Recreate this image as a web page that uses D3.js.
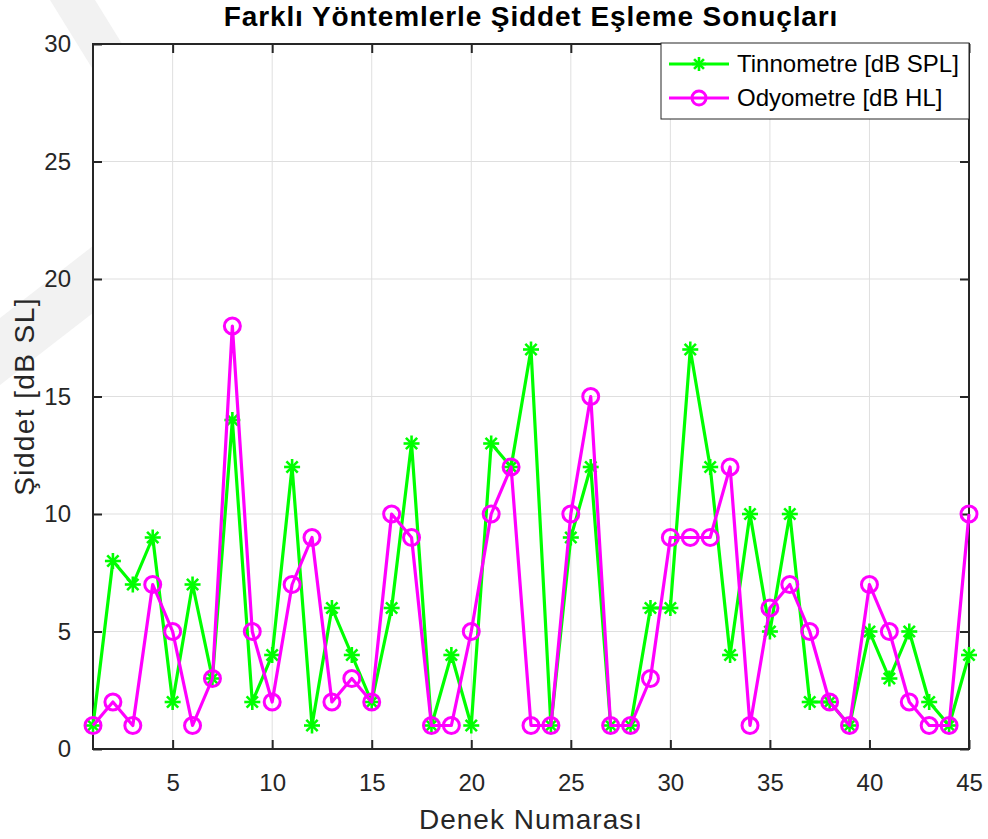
<!DOCTYPE html>
<html>
<head>
<meta charset="utf-8">
<style>
  body { margin: 0; background: #fff; }
  svg text { font-family: "Liberation Sans", Arial, Helvetica, sans-serif; fill: #262626; }
</style>
</head>
<body>
<svg width="988" height="839" id="chart"></svg>
<script src="https://cdn.jsdelivr.net/npm/d3@7"></script>
<script>

// subject numbers 1..45
var subjects = [1,2,3,4,5,6,7,8,9,10,11,12,13,14,15,16,17,18,19,20,21,22,23,24,25,26,27,28,29,30,31,32,33,34,35,36,37,38,39,40,41,42,43,44,45];

var tinnometre = [1,8,7,9,2,7,3,14,2,4,12,1,6,4,2,6,13,1,4,1,13,12,17,1,9,12,1,1,6,6,17,12,4,10,5,10,2,2,1,5,3,5,2,1,4];
var odyometre  = [1,2,1,7,5,1,3,18,5,2,7,9,2,3,2,10,9,1,1,5,10,12,1,1,10,15,1,1,3,9,9,9,12,1,6,7,5,2,1,7,5,2,1,1,10];

var xTicks = [5,10,15,20,25,30,35,40,45];
var yTicks = [0,5,10,15,20,25,30];

var seriesNames = ["Tinnometre [dB SPL]", "Odyometre [dB HL]"];
var titleText = "Farklı Yöntemlerle Şiddet Eşleme Sonuçları";
var xLabel = "Denek Numarası";
var yLabel = "Şiddet [dB SL]";

var svg = d3.select('#chart');

var pLeft = 93, pRight = 969, pTop = 44, pBottom = 749;
var axisColor = '#262626';

// faint watermark bands behind the figure
svg.append('polygon')
  .attr('points', '50,0 95,0 200,170 155,170')
  .style('fill', '#f2f2f2');
svg.append('polygon')
  .attr('points', '0,318 0,385 200,230 200,163')
  .style('fill', '#f2f2f2');

var x = d3.scaleLinear().domain([1, 45]).range([pLeft, pRight]);
var y = d3.scaleLinear().domain([0, 30]).range([pBottom, pTop]);

// plot background
svg.append('rect')
  .attr('x', pLeft).attr('y', pTop)
  .attr('width', pRight - pLeft).attr('height', pBottom - pTop)
  .style('fill', '#fff');

// grid
var grid = svg.append('g');
grid.selectAll('.gx').data(xTicks.filter(function(d){ return d < 45; }))
  .enter().append('line')
    .attr('x1', function(d){ return x(d); }).attr('x2', function(d){ return x(d); })
    .attr('y1', pTop).attr('y2', pBottom)
    .style('stroke', '#dfdfdf').style('stroke-width', 1);
grid.selectAll('.gy').data(yTicks.filter(function(d){ return d > 0 && d < 30; }))
  .enter().append('line')
    .attr('y1', function(d){ return y(d); }).attr('y2', function(d){ return y(d); })
    .attr('x1', pLeft).attr('x2', pRight)
    .style('stroke', '#dfdfdf').style('stroke-width', 1);

// axes (inward ticks, MATLAB style)
var xAxis = svg.append('g').attr('transform', 'translate(0,' + pBottom + ')')
  .call(d3.axisBottom(x).tickValues(xTicks).tickSizeInner(-9).tickSizeOuter(0).tickPadding(25));
var xAxisTop = svg.append('g').attr('transform', 'translate(0,' + pTop + ')')
  .call(d3.axisTop(x).tickValues(xTicks).tickSizeInner(-9).tickSizeOuter(0).tickFormat(''));
var yAxis = svg.append('g').attr('transform', 'translate(' + pLeft + ',0)')
  .call(d3.axisLeft(y).tickValues(yTicks).tickSizeInner(-9).tickSizeOuter(0).tickPadding(22));
var yAxisRight = svg.append('g').attr('transform', 'translate(' + pRight + ',0)')
  .call(d3.axisRight(y).tickValues(yTicks).tickSizeInner(-9).tickSizeOuter(0).tickFormat(''));

[xAxis, xAxisTop, yAxis, yAxisRight].forEach(function(a){
  a.select('.domain').remove();
  a.selectAll('.tick line').style('stroke', axisColor).style('stroke-width', 2);
  a.selectAll('.tick text').style('font-size', '24px').style('fill', axisColor)
    .style('font-family', '"Liberation Sans", Arial, sans-serif');
});

// frame
svg.append('rect')
  .attr('x', pLeft).attr('y', pTop)
  .attr('width', pRight - pLeft).attr('height', pBottom - pTop)
  .style('fill', 'none').style('stroke', axisColor).style('stroke-width', 2);

// series
var green = '#00ff00', magenta = '#ff00ff';

var line = d3.line()
  .x(function(d){ return x(d[0]); })
  .y(function(d){ return y(d[1]); });

var tinData = subjects.map(function(s, i){ return [s, tinnometre[i]]; });
var odyData = subjects.map(function(s, i){ return [s, odyometre[i]]; });

function asterisk(g, cx, cy, r, color) {
  var a = g.append('g').attr('transform', 'translate(' + cx + ',' + cy + ')');
  [0, 45, 90, 135].forEach(function(ang){
    var rad = ang * Math.PI / 180;
    a.append('line')
      .attr('x1', -r * Math.cos(rad)).attr('y1', -r * Math.sin(rad))
      .attr('x2', r * Math.cos(rad)).attr('y2', r * Math.sin(rad))
      .style('stroke', color).style('stroke-width', 2.6);
  });
}

svg.append('path').datum(tinData)
  .attr('d', line)
  .style('fill', 'none').style('stroke', green).style('stroke-width', 3.2)
  .style('stroke-linejoin', 'round');
var tinMarks = svg.append('g');
tinData.forEach(function(d){ asterisk(tinMarks, x(d[0]), y(d[1]), 8, green); });

svg.append('path').datum(odyData)
  .attr('d', line)
  .style('fill', 'none').style('stroke', magenta).style('stroke-width', 3.2)
  .style('stroke-linejoin', 'round');
svg.append('g').selectAll('circle').data(odyData)
  .enter().append('circle')
    .attr('cx', function(d){ return x(d[0]); })
    .attr('cy', function(d){ return y(d[1]); })
    .attr('r', 8)
    .style('fill', 'none').style('stroke', magenta).style('stroke-width', 3);

// legend
var leg = svg.append('g');
leg.append('rect')
  .attr('x', 661).attr('y', 43).attr('width', 308).attr('height', 76)
  .style('fill', '#fff').style('stroke', axisColor).style('stroke-width', 1);
[0, 1].forEach(function(i){
  var ly = 64 + i * 34;
  var col = i === 0 ? green : magenta;
  leg.append('line').attr('x1', 669).attr('x2', 729).attr('y1', ly).attr('y2', ly)
    .style('stroke', col).style('stroke-width', 3.2);
  if (i === 0) asterisk(leg, 699, ly, 7, col);
  else leg.append('circle').attr('cx', 699).attr('cy', ly).attr('r', 7)
    .style('fill', 'none').style('stroke', col).style('stroke-width', 3);
  leg.append('text').attr('x', 737).attr('y', ly).attr('dy', '0.35em')
    .style('font-size', '24px').style('fill', '#000').text(seriesNames[i]);
});

// title and labels
svg.append('text')
  .attr('x', (pLeft + pRight) / 2).attr('y', 26)
  .attr('text-anchor', 'middle')
  .style('font-size', '28px').style('font-weight', 'bold').style('fill', '#000')
  .style('letter-spacing', '0.9px')
  .text(titleText);

svg.append('text')
  .attr('x', (pLeft + pRight) / 2).attr('y', 829)
  .attr('text-anchor', 'middle')
  .style('font-size', '28px').style('letter-spacing', '1px')
  .text(xLabel);

svg.append('text')
  .attr('transform', 'translate(34,' + ((pTop + pBottom) / 2) + ') rotate(-90)')
  .attr('text-anchor', 'middle')
  .style('font-size', '28px').style('letter-spacing', '1.4px')
  .text(yLabel);

</script>
</body>
</html>
